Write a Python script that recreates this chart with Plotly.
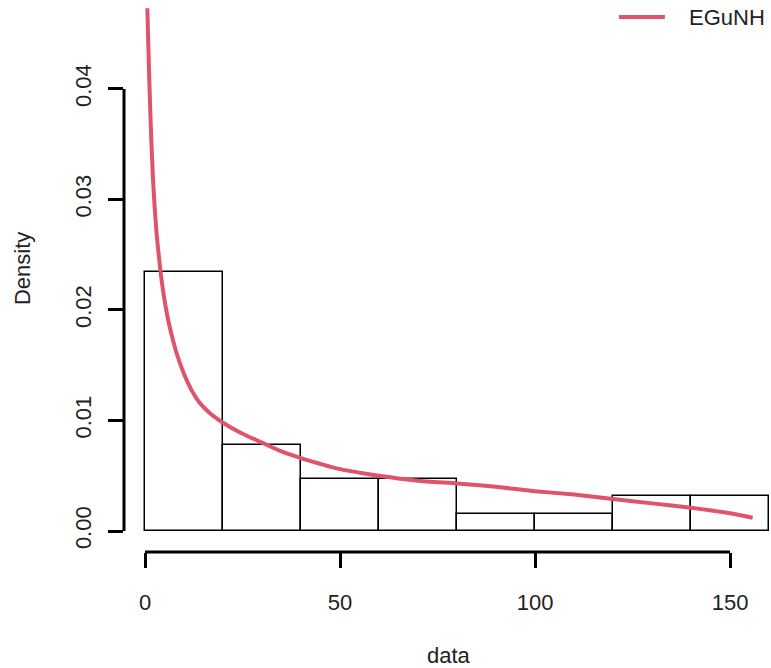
import plotly.graph_objects as go

# Histogram data
breaks = [0, 20, 40, 60, 80, 100, 120, 140, 160]
density = [0.0234375, 0.0078125, 0.0046875, 0.0046875, 0.0015625, 0.0015625, 0.003125, 0.003125]

# Fitted EGuNH density curve
curve_x = [0.6, 1.0, 1.5, 2.0, 2.5, 3.0, 4.0, 5.0, 6.0, 7.0, 8.0, 10, 12, 14, 16.5, 20, 25, 30, 35, 40, 50, 60, 70, 80, 90, 100, 110, 120, 130, 140, 150, 155.8]
curve_y = [0.0473, 0.0420, 0.0365, 0.0322, 0.0292, 0.0268, 0.0234, 0.0209, 0.0190, 0.0175, 0.0162, 0.0142, 0.0127, 0.0116, 0.0107, 0.0098, 0.0088, 0.0080, 0.0072, 0.0066, 0.0056, 0.0050, 0.00455, 0.0043, 0.0040, 0.0036, 0.0033, 0.0029, 0.0025, 0.0021, 0.0016, 0.0012]

xticks = [0, 50, 100, 150]
yticks = [0.00, 0.01, 0.02, 0.03, 0.04]
ytick_labels = ["0.00", "0.01", "0.02", "0.03", "0.04"]

series_name = "EGuNH"
line_color = "#DF536B"

mids = [(a + b) / 2 for a, b in zip(breaks[:-1], breaks[1:])]
widths = [b - a for a, b in zip(breaks[:-1], breaks[1:])]

FONT = "Liberation Sans, Arial, Helvetica, sans-serif"
TXT = "#222222"
FS = 22

fig = go.Figure()
fig.add_trace(go.Bar(
    x=mids, y=density, width=widths,
    marker=dict(color="white", line=dict(color="black", width=1.5)),
    showlegend=False, hoverinfo="skip",
))
fig.add_trace(go.Scatter(
    x=curve_x, y=curve_y, mode="lines", name=series_name, showlegend=False,
    line=dict(color=line_color, width=4, shape="spline", smoothing=0.5),
))

# R-style axis lines spanning first to last tick
fig.add_shape(type="line", xref="x", yref="paper", x0=xticks[0], x1=xticks[-1], y0=0, y1=0,
              line=dict(color="black", width=3))
fig.add_shape(type="line", xref="paper", yref="y", x0=0, x1=0, y0=yticks[0], y1=yticks[-1],
              line=dict(color="black", width=3))

# Legend (top-right, R style)
fig.add_shape(type="line", xref="paper", yref="paper", x0=0.765, x1=0.836, y0=0.969, y1=0.969,
              line=dict(color=line_color, width=4))

fig.update_layout(
    width=771, height=668,
    margin=dict(l=124, r=0, t=0, b=116),
    plot_bgcolor="white", paper_bgcolor="white",
    font=dict(family=FONT, size=FS, color=TXT),
    bargap=0,
    showlegend=False,
    xaxis=dict(range=[-5.385, 160.5], tickvals=xticks, ticktext=[str(v) for v in xticks],
               ticks="outside", ticklen=15, tickwidth=3, tickcolor="black",
               showgrid=False, zeroline=False, showline=False,
               ticklabelstandoff=16, tickfont=dict(size=FS, family=FONT, color=TXT)),
    yaxis=dict(range=[-0.0019, 0.04805], tickvals=yticks, ticktext=ytick_labels,
               ticks="outside", ticklen=15, tickwidth=3, tickcolor="black",
               showgrid=False, zeroline=False, showline=False, tickangle=-90,
               ticklabelstandoff=8, tickfont=dict(size=FS, family=FONT, color=TXT)),
    annotations=[
        dict(text="data", xref="paper", yref="paper", x=0.503, y=-0.1866,
             xanchor="center", yanchor="middle", showarrow=False,
             font=dict(size=FS, family=FONT, color=TXT)),
        dict(text="Density", xref="paper", yref="paper", x=-0.156, y=0.5127,
             xanchor="center", yanchor="middle", showarrow=False, textangle=-90,
             font=dict(size=FS, family=FONT, color=TXT)),
        dict(text=series_name, xref="paper", yref="paper", x=0.870, y=0.969,
             xanchor="left", yanchor="middle", showarrow=False,
             font=dict(size=FS, family=FONT, color=TXT)),
    ],
)

fig.write_html("out.html")
